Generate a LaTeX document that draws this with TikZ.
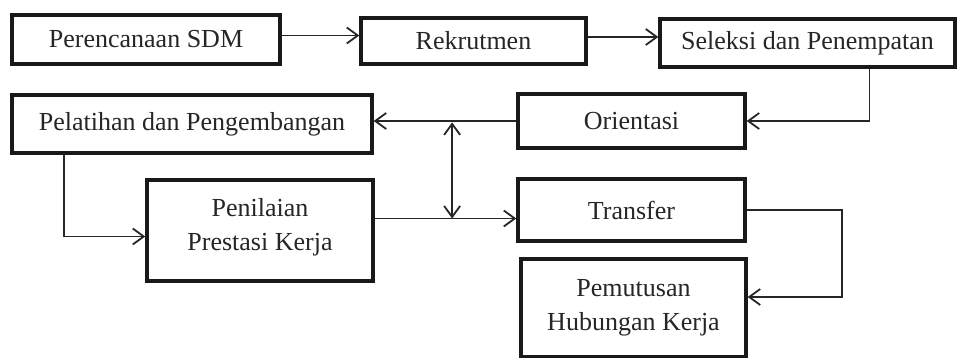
\documentclass[tikz,border=0pt]{standalone}
\usepackage{fontspec}
\setmainfont{Liberation Serif}
\usetikzlibrary{positioning, arrows.meta, calc}

\begin{document}
\begin{tikzpicture}[
    x=1pt, y=1pt,
    font=\fontsize{26}{34}\selectfont,
    box/.style={draw=black!90, fill=white, line width=3.4pt, align=center,
                inner sep=0pt, text=black!85},
    flow/.style={-{Straight Barb[length=11pt,width=16pt]}, line width=1.8pt, draw=black!85},
    twoway/.style={{Straight Barb[length=11pt,width=16pt]}-{Straight Barb[length=11pt,width=16pt]},
                   line width=1.8pt, draw=black!85}
]
\useasboundingbox (0,0) rectangle (958,358);
\node[box, minimum width=268pt, minimum height=49pt] (rencana) at (146,318.5) {Perencanaan SDM};
\node[box, minimum width=225pt, minimum height=46pt] (rekrut) at (473.5,317) {Rekrutmen};
\node[box, minimum width=295pt, minimum height=48pt] (seleksi) at (807.5,315) {Seleksi dan Penempatan};
\node[box, minimum width=360pt, minimum height=58pt] (latih) at (192,234) {Pelatihan dan Pengembangan};
\node[box, minimum width=227pt, minimum height=54pt] (orient) at (631.5,237) {Orientasi};
\node[box, minimum width=226pt, minimum height=101pt] (nilai) at (260,127.5) {Penilaian\\Prestasi Kerja\\[-22pt]};
\node[box, minimum width=227pt, minimum height=62pt] (transfer) at (631.5,148) {Transfer};
\node[box, minimum width=225pt, minimum height=98pt] (putus) at (633.5,50) {Pemutusan\\Hubungan Kerja};
% connectors
\draw[flow] ([yshift=4pt]rencana.east) -- ([yshift=4pt]rencana.east -| rekrut.west);
\draw[flow] ([yshift=4pt]rekrut.east) -- ([yshift=4pt]rekrut.east -| seleksi.west);
\draw[flow] ([xshift=62pt]seleksi.south) |- (orient.east);
\draw[flow] (orient.west) -- (orient.west -| latih.east);
\draw[flow] ([xshift=-128pt]latih.south) |- ([yshift=-6pt]nilai.west);
\draw[flow] ([yshift=12pt]nilai.east) -- ([yshift=12pt]nilai.east -| transfer.west);
\draw[flow] (transfer.east) -- ++(95,0) |- ([yshift=11pt]putus.east);
\coordinate (upper) at ($(latih.east)!0.55!(orient.west)$);
\coordinate (lower) at ([yshift=12pt]nilai.east -| upper);
\draw[twoway] (upper) -- (lower);
\end{tikzpicture}
\end{document}
